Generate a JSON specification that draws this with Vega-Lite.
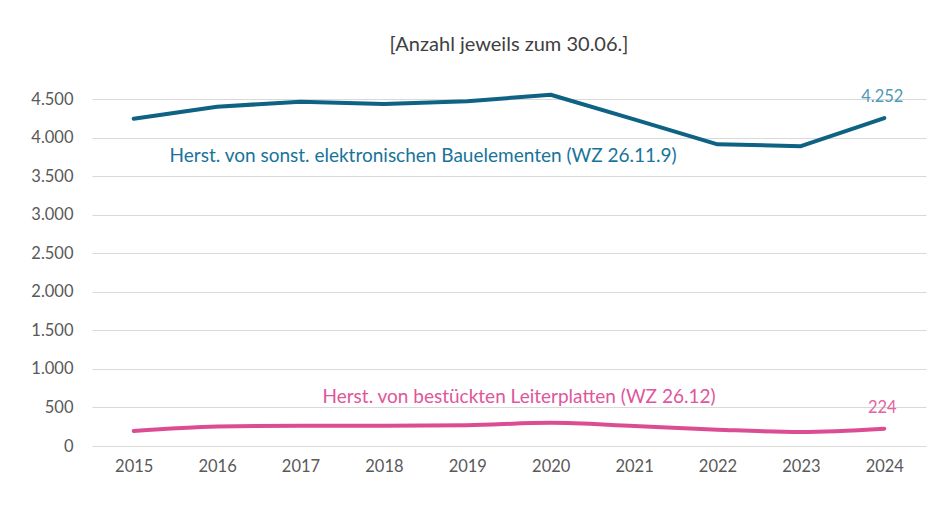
{
  "$schema": "https://vega.github.io/schema/vega-lite/v6.json",
  "width": 834,
  "height": 347,
  "autosize": {"type": "none"},
  "padding": {"left": 92, "top": 99, "right": 14, "bottom": 69},
  "background": "white",
  "config": {
    "view": {"stroke": null},
    "font": "Lato",
    "axis": {"labelFont": "Lato", "labelColor": "#595959", "labelFontSize": 16.5, "labelOverlap": false}
  },
  "title": {
    "text": "[Anzahl jeweils zum 30.06.]",
    "font": "Lato",
    "fontSize": 20,
    "fontWeight": "normal",
    "color": "#404040",
    "anchor": "middle",
    "offset": 34
  },
  "datasets": {
    "series": [
      {"year": 2015, "value": 4245, "series": "elektro"},
      {"year": 2016, "value": 4400, "series": "elektro"},
      {"year": 2017, "value": 4465, "series": "elektro"},
      {"year": 2018, "value": 4436, "series": "elektro"},
      {"year": 2019, "value": 4472, "series": "elektro"},
      {"year": 2020, "value": 4555, "series": "elektro"},
      {"year": 2021, "value": 4235, "series": "elektro"},
      {"year": 2022, "value": 3912, "series": "elektro"},
      {"year": 2023, "value": 3888, "series": "elektro"},
      {"year": 2024, "value": 4252, "series": "elektro"},
      {"year": 2015, "value": 195, "series": "leiter"},
      {"year": 2016, "value": 252, "series": "leiter"},
      {"year": 2017, "value": 263, "series": "leiter"},
      {"year": 2018, "value": 262, "series": "leiter"},
      {"year": 2019, "value": 270, "series": "leiter"},
      {"year": 2020, "value": 300, "series": "leiter"},
      {"year": 2021, "value": 258, "series": "leiter"},
      {"year": 2022, "value": 212, "series": "leiter"},
      {"year": 2023, "value": 182, "series": "leiter"},
      {"year": 2024, "value": 224, "series": "leiter"}
    ],
    "labels": [
      {"year": 2018.47, "value": 3761, "label": "Herst. von sonst. elektronischen Bauelementen (WZ 26.11.9)", "series": "elektro"},
      {"year": 2019.62, "value": 635, "label": "Herst. von bestückten Leiterplatten (WZ 26.12)", "series": "leiter"}
    ]
  },
  "encoding": {
    "x": {
      "field": "year", "type": "quantitative",
      "scale": {"domain": [2014.5, 2024.5], "nice": false, "zero": false},
      "axis": {"values": [2015, 2016, 2017, 2018, 2019, 2020, 2021, 2022, 2023, 2024], "format": "d", "title": null, "grid": false, "domain": false, "ticks": false, "labelPadding": 12}
    },
    "y": {
      "field": "value", "type": "quantitative",
      "scale": {"domain": [0, 4500], "nice": false},
      "axis": {"values": [0, 500, 1000, 1500, 2000, 2500, 3000, 3500, 4000, 4500], "tickCount": 10, "labelExpr": "replace(format(datum.value, ','), ',', '.')", "title": null, "domain": false, "ticks": false, "labelPadding": 19, "gridColor": "#d9d9d9", "gridWidth": 1.2}
    }
  },
  "layer": [
    {
      "data": {"name": "series"},
      "transform": [{"filter": "datum.series === 'elektro'"}],
      "mark": {"type": "line", "strokeWidth": 4, "color": "#0e6284", "interpolate": "linear", "strokeCap": "round", "strokeJoin": "round"}
    },
    {
      "data": {"name": "series"},
      "transform": [{"filter": "datum.series === 'leiter'"}],
      "mark": {"type": "line", "strokeWidth": 4, "color": "#dc4c93", "interpolate": "monotone", "strokeCap": "round"}
    },
    {
      "data": {"name": "series"},
      "transform": [{"filter": "datum.year === 2024"}, {"calculate": "replace(format(datum.value, ','), ',', '.')", "as": "txt"}],
      "mark": {"type": "text", "fontSize": 16.5, "font": "Lato", "align": "center"},
      "encoding": {
        "text": {"field": "txt"},
        "color": {"field": "series", "type": "nominal", "scale": {"domain": ["elektro", "leiter"], "range": ["#4f98b6", "#e462a2"]}, "legend": null},
        "xOffset": {"condition": {"test": "datum.series === 'elektro'", "value": -16}, "value": -2},
        "yOffset": {"condition": {"test": "datum.series === 'elektro'", "value": -25}, "value": -21}
      }
    },
    {
      "data": {"name": "labels"},
      "mark": {"type": "text", "fontSize": 19, "fontWeight": "normal", "font": "Lato", "align": "center", "baseline": "middle"},
      "encoding": {
        "text": {"field": "label"},
        "color": {"field": "series", "type": "nominal", "scale": {"domain": ["elektro", "leiter"], "range": ["#17739a", "#e0559c"]}, "legend": null}
      }
    }
  ],
  "resolve": {"scale": {"color": "independent"}}
}
